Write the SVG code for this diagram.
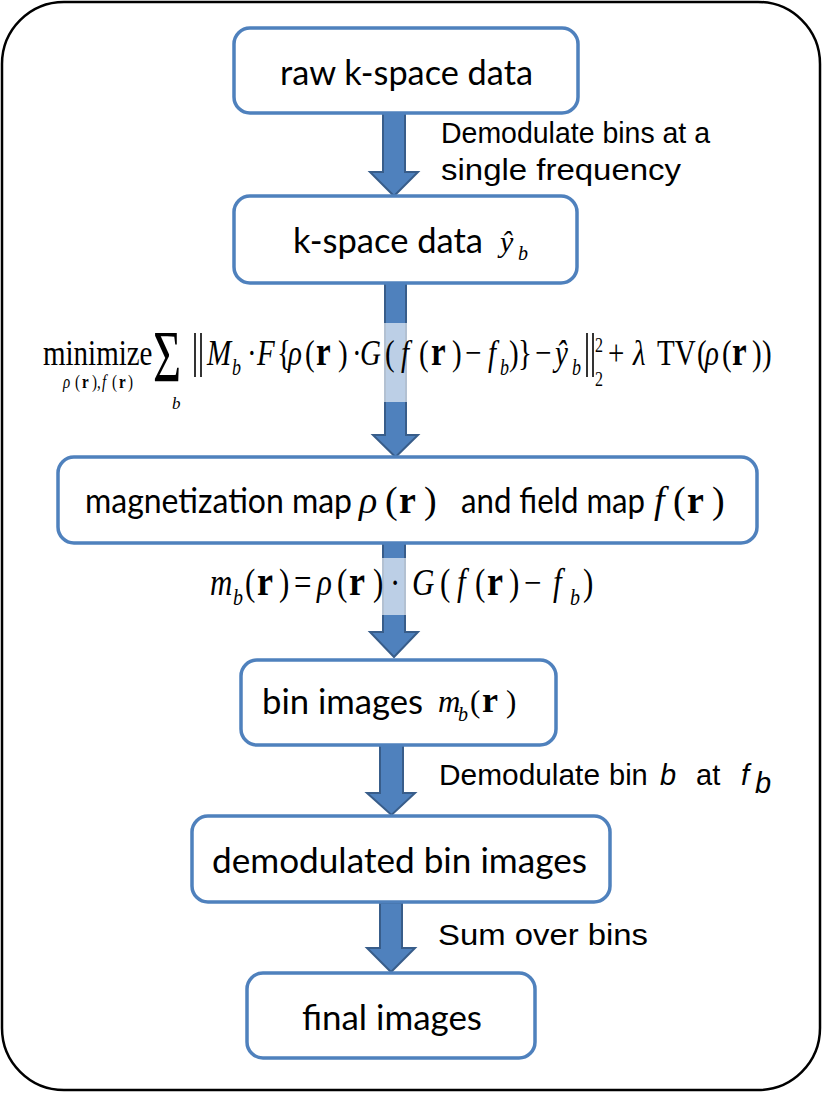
<svg xmlns="http://www.w3.org/2000/svg" width="822" height="1093" viewBox="0 0 822 1093">
<style>
.box{fill:#fff;stroke:#4F81BD;stroke-width:3.5}
.arr{fill:#4F81BD;stroke:#385D8A;stroke-width:2;stroke-linejoin:miter}
.bt{font-family:Lato,"Open Sans",sans-serif;font-size:35px;fill:#000}
.lb{font-family:"Liberation Sans",Arial,sans-serif;font-size:29px;fill:#000}
.m{font-family:"Liberation Serif","Times New Roman",serif;fill:#000}
.i{font-style:italic}
.bd{font-weight:bold}
.band{fill:#fff;fill-opacity:0.62}
</style>
<rect x="2" y="2" width="818" height="1088" rx="62" fill="#fff" stroke="#000" stroke-width="2.5"/>
<g id="connectors">
<polygon class="arr" points="383,113 405,113 405,172 418,172 394,196 370,172 383,172"/>
<polygon class="arr" points="385,283 406,283 406,435 418,435 395.5,457 373,435 385,435"/>
<polygon class="arr" points="383,543 405,543 405,632 418,632 394,657 370,632 383,632"/>
<polygon class="arr" points="380,745 403,745 403,793 415,793 391.5,815 367,793 380,793"/>
<polygon class="arr" points="380,903 402,903 402,948 415,948 391,972 367,948 380,948"/>
</g>
<g id="n1">
<rect class="box" x="234" y="28" width="344" height="85" rx="16"/>
<text class="bt" x="280" y="85" textLength="253" lengthAdjust="spacingAndGlyphs">raw k-space data</text>
</g>
<g id="l1">
<text class="lb" x="441" y="143" textLength="269" lengthAdjust="spacingAndGlyphs">Demodulate bins at a</text>
<text class="lb" x="441" y="180" textLength="240" lengthAdjust="spacingAndGlyphs">single frequency</text>
</g>
<g id="n2">
<rect class="box" x="234" y="196" width="343" height="87" rx="16"/>
<text class="bt" x="293" y="253" textLength="190" lengthAdjust="spacingAndGlyphs">k-space data</text>
<text class="m i" x="500" y="252" font-size="30">ŷ</text>
<text class="m i" x="518" y="260" font-size="20">b</text>
</g>
<g id="f1">
<rect class="band" x="40" y="323" width="740" height="79"/>
<text class="m" font-size="46" transform="translate(153,382) scale(1.05,1.6)">Σ</text>
<text class="m i" x="172" y="409" font-size="17">b</text>
<g transform="translate(0,365) scale(1,1.25)">
<text class="m" font-size="29" y="0">
<tspan x="43">minimize</tspan>
<tspan x="207" class="i">M</tspan>
<tspan x="247">·</tspan>
<tspan x="257" class="i">F</tspan>
<tspan x="277">{</tspan>
<tspan x="288" class="i">ρ</tspan>
<tspan x="305">(</tspan><tspan x="316" class="bd" font-size="33">r</tspan><tspan x="338">)</tspan>
<tspan x="352">·</tspan>
<tspan x="360" class="i">G</tspan>
<tspan x="385">(</tspan>
<tspan x="401" class="i">f</tspan>
<tspan x="419">(</tspan><tspan x="431" class="bd" font-size="33">r</tspan><tspan x="452">)</tspan>
<tspan x="465">−</tspan>
<tspan x="488" class="i">f</tspan>
<tspan x="509">)</tspan>
<tspan x="518">}</tspan>
<tspan x="535">−</tspan>
<tspan x="555" class="i">ŷ</tspan>
<tspan x="608">+</tspan>
<tspan x="633" class="i">λ</tspan>
<tspan x="657">TV</tspan>
<tspan x="697">(</tspan>
<tspan x="705" class="i">ρ</tspan>
<tspan x="722">(</tspan><tspan x="732" class="bd" font-size="33">r</tspan><tspan x="752">)</tspan><tspan x="762">)</tspan>
</text>
<text class="m" font-size="18" y="8">
<tspan x="232" class="i">b</tspan>
<tspan x="500" class="i">b</tspan>
<tspan x="572" class="i">b</tspan>
</text>
<text class="m" font-size="16" y="-10.4"><tspan x="595">2</tspan></text>
<text class="m" font-size="16" y="17"><tspan x="595">2</tspan></text>
<text class="m" font-size="15" y="18.4">
<tspan x="63" class="i">ρ</tspan><tspan x="75">(</tspan><tspan x="82" class="bd">r</tspan><tspan x="92">)</tspan><tspan x="97">,</tspan><tspan x="102" class="i">f</tspan><tspan x="112">(</tspan><tspan x="119" class="bd">r</tspan><tspan x="128">)</tspan>
</text>
</g>
<g stroke="#000" stroke-width="1.6">
<line x1="195" y1="333" x2="195" y2="377"/>
<line x1="201" y1="333" x2="201" y2="377"/>
<line x1="587" y1="333" x2="587" y2="377"/>
<line x1="593" y1="333" x2="593" y2="377"/>
</g>
</g>
<g id="n3">
<rect class="box" x="58" y="457" width="699" height="86" rx="16"/>
<text class="bt" x="85" y="513" textLength="267" lengthAdjust="spacingAndGlyphs">magnetization map</text>
<text class="m" font-size="38" y="513"><tspan x="359" class="i">ρ</tspan><tspan x="385">(</tspan><tspan x="399" class="bd">r</tspan><tspan x="424">)</tspan></text>
<text class="bt" x="461" y="513" textLength="184" lengthAdjust="spacingAndGlyphs">and field map</text>
<text class="m" font-size="38" y="513"><tspan x="654" class="i">f</tspan><tspan x="673">(</tspan><tspan x="687" class="bd">r</tspan><tspan x="712">)</tspan></text>
</g>
<g id="f2">
<rect class="band" x="200" y="558" width="400" height="57"/>
<g transform="translate(0,595) scale(1,1.2)">
<text class="m" font-size="31" y="0">
<tspan x="210" class="i">m</tspan>
<tspan x="245">(</tspan><tspan x="257" class="bd" font-size="36">r</tspan><tspan x="279">)</tspan>
<tspan x="294">=</tspan>
<tspan x="317" class="i">ρ</tspan>
<tspan x="337">(</tspan><tspan x="349" class="bd" font-size="36">r</tspan><tspan x="373">)</tspan>
<tspan x="390">·</tspan>
<tspan x="412" class="i">G</tspan>
<tspan x="440">(</tspan>
<tspan x="457" class="i">f</tspan>
<tspan x="475">(</tspan><tspan x="487" class="bd" font-size="36">r</tspan><tspan x="509">)</tspan>
<tspan x="524">−</tspan>
<tspan x="553" class="i">f</tspan>
<tspan x="583">)</tspan>
</text>
<text class="m i" font-size="20" y="8.3"><tspan x="233">b</tspan><tspan x="570">b</tspan></text>
</g>
</g>
<g id="n4">
<rect class="box" x="241" y="660" width="315" height="85" rx="16"/>
<text class="bt" x="262" y="714" textLength="161" lengthAdjust="spacingAndGlyphs">bin images</text>
<text class="m" font-size="31" y="712"><tspan x="438" class="i">m</tspan><tspan x="470">(</tspan><tspan x="482" class="bd" font-size="36">r</tspan><tspan x="506">)</tspan></text>
<text class="m i" font-size="20" x="458" y="721">b</text>
</g>
<g id="l4">
<text class="lb" y="785"><tspan x="439" textLength="161" lengthAdjust="spacingAndGlyphs">Demodulate</tspan><tspan x="609">bin</tspan><tspan x="660" class="i">b</tspan><tspan x="696">at</tspan><tspan x="741" class="i">f</tspan></text>
<text class="lb i" x="755" y="793" font-size="17">b</text>
</g>
<g id="n5">
<rect class="box" x="192" y="816" width="418" height="86" rx="16"/>
<text class="bt" x="212" y="873" textLength="375" lengthAdjust="spacingAndGlyphs">demodulated bin images</text>
</g>
<g id="l5">
<text class="lb" x="438" y="945" textLength="210" lengthAdjust="spacingAndGlyphs">Sum over bins</text>
</g>
<g id="n6">
<rect class="box" x="247" y="973" width="288" height="85" rx="16"/>
<text class="bt" x="302" y="1030" textLength="180" lengthAdjust="spacingAndGlyphs">final images</text>
</g>
</svg>
